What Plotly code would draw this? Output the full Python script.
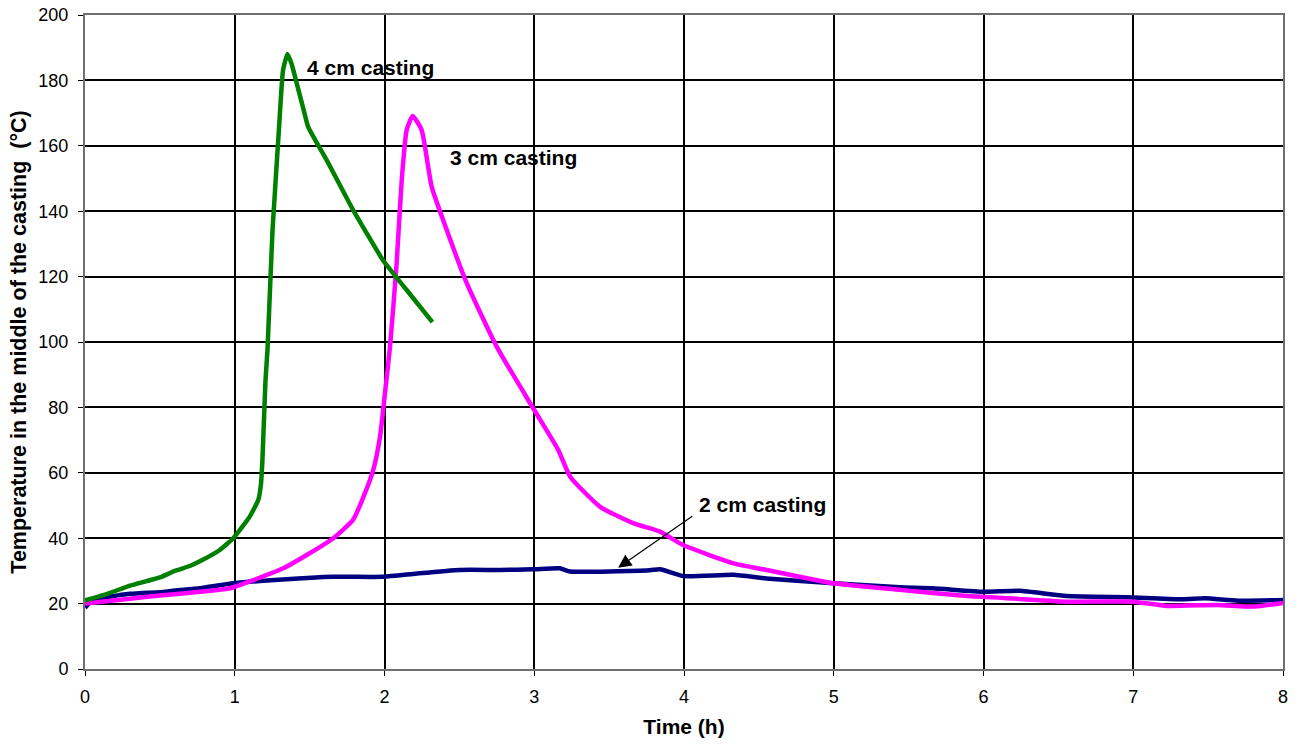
import plotly.graph_objects as go

# 4 cm casting
t4 = [0, 0.15, 0.3, 0.5, 0.6, 0.7, 0.77, 0.9, 0.99, 1.1, 1.157, 1.175, 1.185, 1.205, 1.219, 1.252, 1.295, 1.322, 1.352, 1.38, 1.42, 1.46, 1.49, 1.614, 1.79, 1.99, 2.148, 2.32]
T4 = [21, 23, 25.5, 28, 30, 31.5, 33, 36.4, 40, 46.6, 51.7, 56.5, 64, 88, 98, 134, 165, 183, 188.1, 185, 178, 171, 165.8, 155.6, 140.4, 125, 115.9, 106.1]

# 3 cm casting
t3 = [0, 0.3, 0.5, 0.768, 0.968, 1.124, 1.324, 1.5, 1.658, 1.79, 1.86, 1.925, 1.97, 2.003, 2.037, 2.081, 2.115, 2.148, 2.188, 2.248, 2.315, 2.415, 2.549, 2.749, 3.0, 3.16, 3.24, 3.44, 3.66, 3.84, 3.995, 4.33, 4.55, 5.0, 5.44, 5.89, 6.0, 6.555, 7.0, 7.225, 7.56, 7.81, 8.0]
T3 = [20, 21.5, 22.5, 23.6, 24.7, 27.2, 30.8, 35.4, 40, 45.6, 52.7, 60.9, 71, 84.3, 98.6, 124, 149.5, 164.8, 169.1, 164.8, 147.5, 134.3, 118, 98.6, 79.2, 67, 58.8, 49.6, 44.6, 42, 37.9, 32.3, 30.3, 26.2, 24.2, 22.3, 22.1, 20.6, 20.6, 19.3, 19.6, 19.1, 20.2]

# 2 cm casting
t2 = [0, 0.05, 0.3, 0.5, 0.6, 0.768, 0.99, 1.32, 1.658, 1.99, 2.215, 2.5, 2.77, 2.99, 3.17, 3.24, 3.77, 3.84, 4.0, 4.33, 4.55, 5.0, 5.44, 5.66, 6.0, 6.24, 6.555, 7.0, 7.33, 7.48, 7.7, 8.0]
T2 = [18.7, 21, 23, 23.5, 24, 24.7, 26.2, 27.4, 28.2, 28.2, 29.2, 30.3, 30.3, 30.5, 30.8, 29.8, 30.2, 30.5, 28.4, 28.8, 27.7, 26.2, 25, 24.7, 23.6, 23.9, 22.3, 21.9, 21.3, 21.6, 20.9, 21.1]

x_ticks = [0, 1, 2, 3, 4, 5, 6, 7, 8]
y_ticks = [0, 20, 40, 60, 80, 100, 120, 140, 160, 180, 200]

fig = go.Figure()
fig.add_trace(go.Scatter(x=t2, y=T2, mode="lines", line=dict(color="#000080", width=4.5, shape="spline", smoothing=0.5), name="2 cm casting"))
fig.add_trace(go.Scatter(x=t3, y=T3, mode="lines", line=dict(color="#FF00FF", width=4.5, shape="spline", smoothing=0.5), name="3 cm casting"))
fig.add_trace(go.Scatter(x=t4, y=T4, mode="lines", line=dict(color="#008000", width=4.5, shape="spline", smoothing=0.4), name="4 cm casting"))

lab_font = dict(family="Liberation Sans, Arial, sans-serif", size=21, color="black")
fig.add_annotation(x=1.469, y=183.8, text="<b>4 cm casting</b>", showarrow=False, xanchor="left", yanchor="middle", font=lab_font)
fig.add_annotation(x=2.424, y=156.3, text="<b>3 cm casting</b>", showarrow=False, xanchor="left", yanchor="middle", font=lab_font)
fig.add_annotation(x=3.56, y=31, ax=4.065, ay=47, xref="x", yref="y", axref="x", ayref="y",
                   text="", showarrow=True, arrowhead=2, arrowsize=2.2, arrowwidth=1.2, arrowcolor="black")
fig.add_annotation(x=4.087, y=50.2, text="<b>2 cm casting</b>", showarrow=False, xanchor="left", yanchor="middle", font=lab_font)

fig.update_layout(
    width=1301, height=745,
    margin=dict(l=85, r=18, t=15, b=76),
    plot_bgcolor="white", paper_bgcolor="white",
    showlegend=False,
    font=dict(family="Liberation Sans, Arial, sans-serif", color="black"),
)
fig.update_xaxes(range=[0, 8], tickvals=x_ticks, ticks="outside", ticklen=5, tickcolor="black",
                 showgrid=True, gridcolor="black", gridwidth=1.5, zeroline=False,
                 showline=True, linecolor="#707070", linewidth=2, mirror=True, automargin=False,
                 ticklabelstandoff=5,
                 tickfont=dict(size=18), title=dict(text="<b>Time (h)</b>", font=dict(size=21), standoff=14))
fig.update_yaxes(range=[0, 200], tickvals=y_ticks, ticks="outside", ticklen=5, tickcolor="black",
                 showgrid=True, gridcolor="black", gridwidth=1.5, zeroline=False,
                 showline=True, linecolor="#707070", linewidth=2, mirror=True, automargin=False,
                 ticklabelstandoff=6,
                 tickfont=dict(size=18), title=dict(text="<b>Temperature in the middle of the casting  (°C)</b>", font=dict(size=21.5), standoff=6))

fig.write_html("out.html")
